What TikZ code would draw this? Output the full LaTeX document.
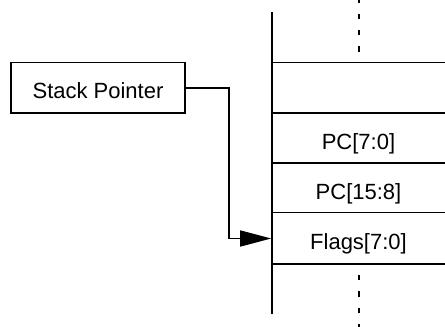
\documentclass[tikz,border=0pt]{standalone}
\usepackage{fontspec}
\setmainfont{Liberation Sans}
\usetikzlibrary{arrows.meta}
\begin{document}
\begin{tikzpicture}[x=1pt,y=-1pt,line width=1.6pt,
  lbl/.style={inner sep=0pt,text height=27.4pt,text depth=5pt,
    font=\fontsize{22}{26}\selectfont},
  cell/.style={lbl,minimum width=173pt,minimum height=50.4pt},
  spbox/.style={lbl,draw,minimum width=174pt,minimum height=50.7pt},
  elide/.style={line width=2pt,dash pattern=on 5.3pt off 11pt},
  ptr/.style={-{Triangle[length=31pt,width=16pt]}}]
\useasboundingbox (0,0) rectangle (445,327);

% memory column: left edge and row separators
\draw (272,12.3) -- (272,314.3);
\foreach \y in {62.3,113,162.7,212.5,263.7}
  \draw (272,\y) -- (445,\y);

% continuation marks above and below the stack
\draw[elide] (359,-2.6) -- (359,52);
\draw[elide] (359,275) -- (359,330);

% stack cells
\node[cell] (c0) at (358.5,87.7) {};
\node[cell] (c1) at (358.5,138) {PC[7:0]};
\node[cell] (c2) at (358.5,188) {PC[15:8]};
\node[cell] (c3) at (358.5,238.5) {Flags[7:0]};

% stack pointer register
\node[spbox] (sp) at (98,87.7) {Stack Pointer};
\coordinate (bend) at (229,87.7);
\draw[ptr] (sp.east) -- (bend) |- (c3.west);
\end{tikzpicture}
\end{document}
